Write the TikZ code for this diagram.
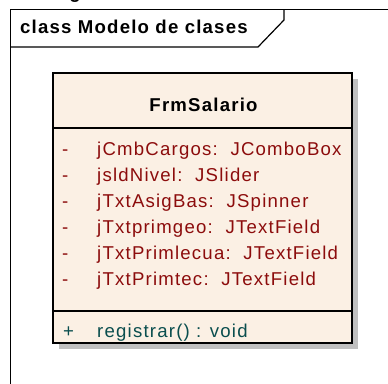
\documentclass[tikz,border=0pt]{standalone}
\usepackage{fontspec}
\setmainfont{Liberation Sans}[LetterSpace=6.5]
\definecolor{boxfill}{RGB}{251,240,228}
\definecolor{attrcol}{RGB}{140,12,12}
\definecolor{opcol}{RGB}{10,78,78}
\definecolor{shadowcol}{RGB}{192,192,192}
\tikzset{
  lbl/.style={inner sep=0pt, anchor=base west, font=\fontsize{18.6}{22}\selectfont},
  attr/.style={lbl, text=attrcol},
  op/.style={lbl, text=opcol},
  bold/.style={inner sep=0pt, font=\fontsize{18.6}{22}\selectfont\bfseries},
}
\begin{document}
\begin{tikzpicture}[x=1pt,y=-1pt]
\useasboundingbox (0,0) rectangle (388,383);
\clip (0,0) rectangle (388,383);
% cut-off text above
\node[bold, anchor=base] (g) at (75,-2) {g};
% frame
\draw[line width=1.2pt] (10.5,400) -- (10.5,9.5) -- (400,9.5);
\draw[line width=1.2pt] (10.5,47) -- (258,47) -- (284,20) -- (284,9.5);
\node[bold, anchor=base west] (title) at (20,33.3) {class Modelo de clases};
% shadow
\fill[shadowcol] (59,79) rectangle (358,349);
% class box
\filldraw[fill=boxfill, draw=black, line width=1.6pt] (53,73) rectangle (352,343);
\draw[line width=1.6pt] (53,128) -- (352,128);
\draw[line width=1.6pt] (53,311) -- (352,311);
\node[bold, anchor=base] (name) at (203.5,111.2) {FrmSalario};
% attributes
\node[attr] (d1) at (62,155.5) {-};
\node[attr] (a1) at (97,155.5) {jCmbCargos:\ \ JComboBox};
\node[attr] (d2) at (62,181.5) {-};
\node[attr] (a2) at (97,181.5) {jsldNivel:\ \ JSlider};
\node[attr] (d3) at (62,207.5) {-};
\node[attr] (a3) at (97,207.5) {jTxtAsigBas:\ \ JSpinner};
\node[attr] (d4) at (62,233.5) {-};
\node[attr] (a4) at (97,233.5) {jTxtprimgeo:\ \ JTextField};
\node[attr] (d5) at (62,259.5) {-};
\node[attr] (a5) at (97,259.5) {jTxtPrimlecua:\ \ JTextField};
\node[attr] (d6) at (62,285.5) {-};
\node[attr] (a6) at (97,285.5) {jTxtPrimtec:\ \ JTextField};
% operation
\node[op] (p1) at (63,337) {+};
\node[op] (o1) at (97,337) {registrar() : void};
\end{tikzpicture}
\end{document}
